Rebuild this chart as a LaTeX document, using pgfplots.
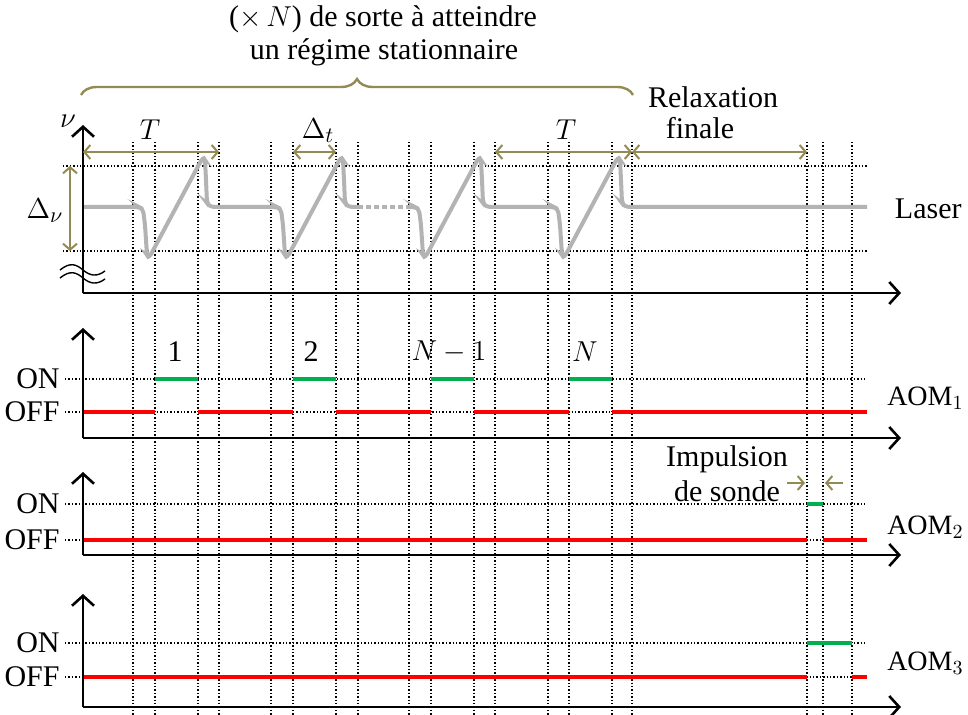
\documentclass[border=0pt]{standalone}
\usepackage{fontspec}
\setmainfont{Liberation Serif}
\usepackage{pgfplots}
\pgfplotsset{compat=1.18}
\usetikzlibrary{arrows.meta,decorations.pathreplacing}
\definecolor{olivearrow}{HTML}{948A54}
\definecolor{ongreen}{HTML}{00B050}
\definecolor{offred}{HTML}{FF0000}
\definecolor{lasergray}{HTML}{B3B3B3}

\begin{document}
\begin{tikzpicture}[font=\fontsize{15}{17}\selectfont]
  \begin{axis}[
      scale only axis,
      width=484pt, height=357.5pt,
      xmin=0, xmax=968, ymin=0, ymax=715,
      y dir=reverse,
      axis lines=none,
      clip=false,
      unbounded coords=jump,
    ]
    \addplot[draw=none] coordinates {(0,0) (968,715)};

    % vertical dotted grid (time marks)
    \pgfplotsinvokeforeach{133,155,198,219,271,293,336,358,409,431,474,495,548,569,612,632,807,823,852}{
      \addplot[black, line width=0.7pt, dash pattern=on 0.7pt off 1pt] coordinates {(#1,142) (#1,715)};
    }
    % horizontal dotted levels
    \pgfplotsinvokeforeach{166,251}{
      \addplot[black, line width=0.7pt, dash pattern=on 0.7pt off 1pt] coordinates {(63,#1) (867,#1)};
    }
    \pgfplotsinvokeforeach{379,412,504,540,643,677}{
      \addplot[black, line width=0.7pt, dash pattern=on 0.7pt off 1pt] coordinates {(65,#1) (867,#1)};
    }

    % laser frequency
    \addplot[lasergray, line width=2pt, rounded corners=2pt] coordinates {
      (83,207) (139,207) (143,209) (145,225) (147,255) (149,258)
      (203,157) (205,160) (206,180) (207,203) (210,207)
      (277,207) (281,209) (283,225) (285,255) (287,258)
      (341,157) (343,160) (344,180) (345,203) (348,207)
      (358,207)
    };
    \addplot[lasergray, line width=2pt, dash pattern=on 2.5pt off 1.5pt] coordinates {(358,207) (409,207)};
    \addplot[lasergray, line width=2pt, rounded corners=2pt] coordinates {
      (409,207)
      (415,207) (419,209) (421,225) (423,255) (425,258)
      (479,157) (481,160) (482,180) (483,203) (486,207)
      (554,207) (558,209) (560,225) (562,255) (564,258)
      (618,157) (620,160) (621,180) (622,203) (625,207)
      (867,207)
    };

    % AOM1
    \addplot[offred, line width=2pt] coordinates {
      (83,412) (155,412) (155,nan)
      (198,412) (293,412) (293,nan)
      (336,412) (431,412) (431,nan)
      (474,412) (569,412) (569,nan)
      (612,412) (867,412)
    };
    \addplot[ongreen, line width=2pt] coordinates {
      (155,379) (198,379) (198,nan)
      (293,379) (336,379) (336,nan)
      (431,379) (474,379) (474,nan)
      (569,379) (612,379)
    };
    % AOM2
    \addplot[offred, line width=2pt] coordinates {(83,540) (807,540) (807,nan) (823,540) (867,540)};
    \addplot[ongreen, line width=2pt] coordinates {(807,504) (823,504)};
    % AOM3
    \addplot[offred, line width=2pt] coordinates {(83,677) (807,677) (807,nan) (852,677) (867,677)};
    \addplot[ongreen, line width=2pt] coordinates {(807,643) (852,643)};

    % axes
    \tikzset{ax/.style={line width=1.3pt, -{Straight Barb[length=5pt,width=11pt]}}}
    \draw[ax] (83,293) -- (83,125);
    \draw[ax] (83,293) -- (901,293);
    \draw[ax] (83,438) -- (83,328);
    \draw[ax] (83,438) -- (901,438);
    \draw[ax] (83,555) -- (83,472);
    \draw[ax] (83,555) -- (901,555);
    \draw[ax] (83,707) -- (83,594);
    \draw[ax] (83,707) -- (901,707);

    % axis break
    \draw[line width=0.7pt] (60,270) .. controls (70,262) and (76,264) .. (83,270) .. controls (90,276) and (97,277) .. (105,271);
    \draw[line width=0.7pt] (60,278) .. controls (70,270) and (76,272) .. (83,278) .. controls (90,284) and (97,285) .. (105,279);

    % olive annotations
    \tikzset{dim/.style={olivearrow, line width=1pt, {Straight Barb[length=3pt,width=7pt]}-{Straight Barb[length=3pt,width=7pt]}}}
    \draw[dim] (83,152) -- (219,152);
    \draw[dim] (293,152) -- (336,152);
    \draw[dim] (495,152) -- (632,152);
    \draw[dim] (632,152) -- (807,152);
    \draw[dim] (70,166) -- (70,251);
    \draw[olivearrow, line width=1pt, -{Straight Barb[length=3pt,width=7pt]}] (787,483) -- (805,483);
    \draw[olivearrow, line width=1pt, -{Straight Barb[length=3pt,width=7pt]}] (843,483) -- (825,483);
    \draw[olivearrow, line width=1.2pt, decorate, decoration={brace, amplitude=8pt}] (81,95) -- (633,95);

    % texts
    \node at (383,19) {($\times\,N$) de sorte à atteindre};
    \node at (384,52) {un régime stationnaire};
    \node at (713,97) {Relaxation};
    \node at (700,128) {finale};
    \node at (68,121) {$\nu$};
    \node at (45,211) {$\Delta_\nu$};
    \node at (150,130) {$T$};
    \node at (318,131) {$\Delta_t$};
    \node at (566,130) {$T$};
    \node at (175,352) {1};
    \node at (311,352) {2};
    \node at (449,352) {$N-1$};
    \node at (585,352) {$N$};
    \node at (727,459) {Impulsion};
    \node at (727,491) {de sonde};
    \node[anchor=east, inner sep=0pt] at (962,209) {Laser};
    \begin{scope}[font=\fontsize{14}{16}\selectfont]
      \node[anchor=east, inner sep=0pt] at (964,398) {AOM$_1$};
      \node[anchor=east, inner sep=0pt] at (964,527) {AOM$_2$};
      \node[anchor=east, inner sep=0pt] at (964,663) {AOM$_3$};
    \end{scope}
    \pgfplotsinvokeforeach{379,504,643}{\node[anchor=east, inner sep=0.5pt] at (61,#1) {ON};}
    \pgfplotsinvokeforeach{412,540,677}{\node[anchor=east, inner sep=0.5pt] at (61,#1) {OFF};}
  \end{axis}
  \pgfresetboundingbox
  \path (current axis.south west) rectangle (current axis.north east);
\end{tikzpicture}
\end{document}
